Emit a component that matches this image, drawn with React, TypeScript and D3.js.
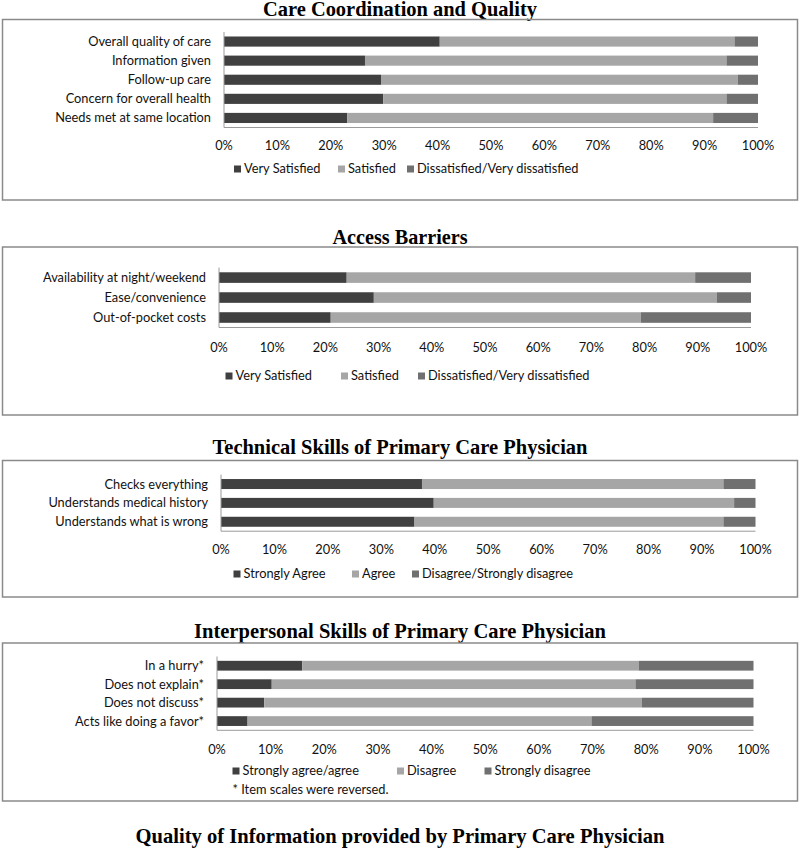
import React from "react";
import * as d3 from "d3";

// ---------- DATA ----------
const ccqCategories = [
  "Overall quality of care",
  "Information given",
  "Follow-up care",
  "Concern for overall health",
  "Needs met at same location",
];
const ccqVerySatisfied = [40.4, 26.4, 29.4, 29.8, 23.1];
const ccqSatisfied = [55.2, 67.7, 66.8, 64.3, 68.5];
const ccqDissatisfied = [4.4, 5.9, 3.8, 5.9, 8.4];
const ccqLegend = ["Very Satisfied", "Satisfied", "Dissatisfied/Very dissatisfied"];

const abCategories = ["Availability at night/weekend", "Ease/convenience", "Out-of-pocket costs"];
const abVerySatisfied = [24.0, 29.1, 21.0];
const abSatisfied = [65.5, 64.5, 58.3];
const abDissatisfied = [10.5, 6.4, 20.7];
const abLegend = ["Very Satisfied", "Satisfied", "Dissatisfied/Very dissatisfied"];

const tsCategories = ["Checks everything", "Understands medical history", "Understands what is wrong"];
const tsStronglyAgree = [37.6, 39.8, 36.2];
const tsAgree = [56.4, 56.2, 57.8];
const tsDisagree = [6.0, 4.0, 6.0];
const tsLegend = ["Strongly Agree", "Agree", "Disagree/Strongly disagree"];

const ipCategories = ["In a hurry*", "Does not explain*", "Does not discuss*", "Acts like doing a favor*"];
const ipAgree = [15.9, 10.2, 8.8, 5.7];
const ipDisagree = [62.7, 67.8, 70.4, 64.1];
const ipStronglyDisagree = [21.4, 22.0, 20.8, 30.2];
const ipLegend = ["Strongly agree/agree", "Disagree", "Strongly disagree"];

const tickValues = [0, 10, 20, 30, 40, 50, 60, 70, 80, 90, 100];

const titles = [
  "Care Coordination and Quality",
  "Access Barriers",
  "Technical Skills of Primary Care Physician",
  "Interpersonal Skills of Primary Care Physician",
  "Quality of Information provided by Primary Care Physician",
];

// ---------- STYLE ----------
const COLORS = ["#404040", "#a6a6a6", "#707070"];
const FONT = "Lato, 'Open Sans', sans-serif";
const TITLE_FONT = "'Liberation Serif', 'Times New Roman', serif";
const FS = 12.8;

type PanelLayout = {
  title: string;
  titleY: number;
  titleW: number;
  boxTop: number;
  boxBottom: number;
  x0: number;
  x1: number;
  yTop: number;
  yBottom: number;
  tickY: number;
  legendY: number;
  legendX: number[];
  note?: string;
  noteY?: number;
};

type PanelData = {
  categories: string[];
  series: number[][];
  legend: string[];
};

function Panel({ layout, data }: { layout: PanelLayout; data: PanelData }) {
  const x = d3.scaleLinear().domain([0, 100]).range([layout.x0, layout.x1]);
  const y = d3
    .scaleBand<string>()
    .domain(data.categories)
    .range([layout.yTop, layout.yBottom])
    .paddingInner(0.47)
    .paddingOuter(0.235);
  const rows = data.categories.map((c, i) => {
    const vals = data.series.map((s) => s[i]);
    const stack: { start: number; end: number; k: number }[] = [];
    let acc = 0;
    vals.forEach((v, k) => {
      stack.push({ start: acc, end: acc + v, k });
      acc += v;
    });
    return { c, stack };
  });
  return (
    <g>
      <text
        x={400}
        y={layout.titleY}
        textAnchor="middle"
        fontFamily={TITLE_FONT}
        fontWeight="bold"
        fontSize={21}
        textLength={layout.titleW}
        lengthAdjust="spacingAndGlyphs"
        fill="#000"
      >
        {layout.title}
      </text>
      <rect
        x={2.5}
        y={layout.boxTop}
        width={795}
        height={layout.boxBottom - layout.boxTop}
        fill="none"
        stroke="#8a8a8a"
        strokeWidth={1.5}
      />
      {rows.map((r) =>
        r.stack.map((s) => (
          <rect
            key={r.c + s.k}
            x={x(Math.min(s.start, 100))}
            y={y(r.c)}
            width={x(Math.min(s.end, 100)) - x(Math.min(s.start, 100))}
            height={y.bandwidth()}
            fill={COLORS[s.k]}
          />
        ))
      )}
      {data.categories.map((c) => (
        <text
          key={c}
          x={layout.x0 - 13}
          y={(y(c) as number) + y.bandwidth() / 2}
          dy="0.35em"
          textAnchor="end"
          fontFamily={FONT}
          fontSize={FS}
          fill="#111"
        >
          {c}
        </text>
      ))}
      <line x1={layout.x0} x2={layout.x0} y1={layout.yTop} y2={layout.yBottom} stroke="#9a9a9a" strokeWidth={1} />
      <line x1={layout.x0} x2={layout.x1} y1={layout.yBottom} y2={layout.yBottom} stroke="#9a9a9a" strokeWidth={1} />
      {tickValues.map((t) => (
        <text
          key={t}
          x={x(t)}
          y={layout.tickY}
          dy="0.35em"
          textAnchor="middle"
          fontFamily={FONT}
          fontSize={FS}
          fill="#111"
        >
          {t + "%"}
        </text>
      ))}
      {data.legend.map((l, k) => (
        <g key={l}>
          <rect x={layout.legendX[k]} y={layout.legendY - 3.5} width={7} height={7} fill={COLORS[k]} />
          <text
            x={layout.legendX[k] + 10}
            y={layout.legendY}
            dy="0.35em"
            fontFamily={FONT}
            fontSize={FS}
            fill="#111"
          >
            {l}
          </text>
        </g>
      ))}
      {layout.note && (
        <text x={layout.legendX[0]} y={layout.noteY} dy="0.35em" fontFamily={FONT} fontSize={FS} fill="#111">
          {layout.note}
        </text>
      )}
    </g>
  );
}

const layouts: PanelLayout[] = [
  {
    title: titles[0], titleY: 16, titleW: 274, boxTop: 19.5, boxBottom: 200,
    x0: 224, x1: 758, yTop: 32, yBottom: 127.5, tickY: 145.5, legendY: 169,
    legendX: [234, 338, 407],
  },
  {
    title: titles[1], titleY: 243.5, titleW: 135, boxTop: 247, boxBottom: 415,
    x0: 219, x1: 751, yTop: 267.6, yBottom: 327.5, tickY: 348, legendY: 376,
    legendX: [225.5, 341, 418],
  },
  {
    title: titles[2], titleY: 453.7, titleW: 375, boxTop: 460.5, boxBottom: 597,
    x0: 221, x1: 755.5, yTop: 474.6, yBottom: 531.2, tickY: 550, legendY: 574,
    legendX: [233.5, 352, 412],
  },
  {
    title: titles[3], titleY: 637.8, titleW: 412, boxTop: 643, boxBottom: 801,
    x0: 217, x1: 753.5, yTop: 656.5, yBottom: 730.3, tickY: 749.5, legendY: 771,
    legendX: [232.5, 397, 484.5], note: "* Item scales were reversed.", noteY: 790,
  },
];

const panelData: PanelData[] = [
  { categories: ccqCategories, series: [ccqVerySatisfied, ccqSatisfied, ccqDissatisfied], legend: ccqLegend },
  { categories: abCategories, series: [abVerySatisfied, abSatisfied, abDissatisfied], legend: abLegend },
  { categories: tsCategories, series: [tsStronglyAgree, tsAgree, tsDisagree], legend: tsLegend },
  { categories: ipCategories, series: [ipAgree, ipDisagree, ipStronglyDisagree], legend: ipLegend },
];

export default function App() {
  return (
    <svg
      width={800}
      height={849}
      viewBox="0 0 800 849"
      style={{ position: "absolute", left: 0, top: 0, background: "#fff" }}
    >
      <rect width={800} height={849} fill="#fff" />
      {layouts.map((l, i) => (
        <Panel key={i} layout={l} data={panelData[i]} />
      ))}
      <text
        x={400}
        y={843}
        textAnchor="middle"
        fontFamily={TITLE_FONT}
        fontWeight="bold"
        fontSize={21}
        textLength={529}
        lengthAdjust="spacingAndGlyphs"
        fill="#000"
      >
        {titles[4]}
      </text>
    </svg>
  );
}
